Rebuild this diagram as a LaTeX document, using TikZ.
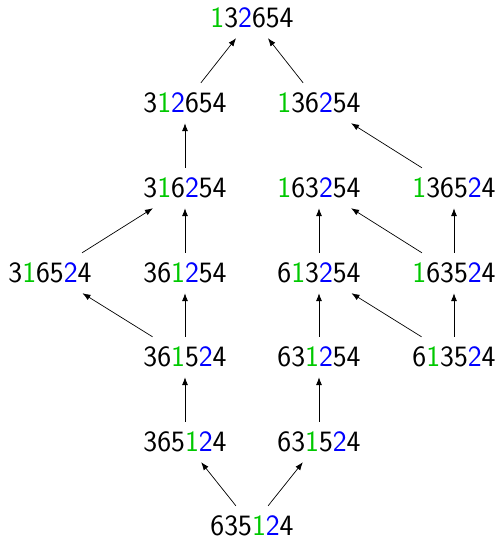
\documentclass[tikz,border=0pt]{standalone}
\usetikzlibrary{arrows.meta}
\definecolor{gr}{RGB}{0,200,0}
\definecolor{bl}{RGB}{0,0,255}
\newcommand\G[1]{\textcolor{gr}{#1}}
\newcommand\B[1]{\textcolor{bl}{#1}}
\tikzset{
  perm/.style={font=\fontsize{29.5}{32}\sffamily, inner sep=0pt, text height=19.5pt, text depth=0pt, minimum height=40pt, anchor=center},
  edge/.style={-{Latex[length=8pt,width=6pt]}, line width=0.7pt},
}
\begin{document}
\begin{tikzpicture}[x=1pt,y=-1pt]
\useasboundingbox (0,0) rectangle (498,539);
% rows
\node[perm] (a) at (252,18) {\G{1}3\B{2}654};
\node[perm] (b1) at (185,103) {3\G{1}\B{2}654};
\node[perm] (b2) at (319,103) {\G{1}36\B{2}54};
\node[perm] (c1) at (185,188) {3\G{1}6\B{2}54};
\node[perm] (c2) at (319,188) {\G{1}63\B{2}54};
\node[perm] (c3) at (454,188) {\G{1}365\B{2}4};
\node[perm] (d1) at (50,273) {3\G{1}65\B{2}4};
\node[perm] (d2) at (185,273) {36\G{1}\B{2}54};
\node[perm] (d3) at (319,273) {6\G{1}3\B{2}54};
\node[perm] (d4) at (454,273) {\G{1}635\B{2}4};
\node[perm] (e1) at (185,357) {36\G{1}5\B{2}4};
\node[perm] (e2) at (319,357) {63\G{1}\B{2}54};
\node[perm] (e3) at (454,357) {6\G{1}35\B{2}4};
\node[perm] (f1) at (185,442) {365\G{1}\B{2}4};
\node[perm] (f2) at (319,442) {63\G{1}5\B{2}4};
\node[perm] (g) at (252,526) {635\G{1}\B{2}4};
% edges
\draw[edge] (b1) -- (a);
\draw[edge] (b2) -- (a);
\draw[edge] (c1) -- (b1);
\draw[edge] (c3) -- (b2);
\draw[edge] (d1) -- (c1);
\draw[edge] (d2) -- (c1);
\draw[edge] (d3) -- (c2);
\draw[edge] (d4) -- (c2);
\draw[edge] (d4) -- (c3);
\draw[edge] (e1) -- (d1);
\draw[edge] (e1) -- (d2);
\draw[edge] (e2) -- (d3);
\draw[edge] (e3) -- (d3);
\draw[edge] (e3) -- (d4);
\draw[edge] (f1) -- (e1);
\draw[edge] (f2) -- (e2);
\draw[edge] (g) -- (f1);
\draw[edge] (g) -- (f2);
\end{tikzpicture}
\end{document}
